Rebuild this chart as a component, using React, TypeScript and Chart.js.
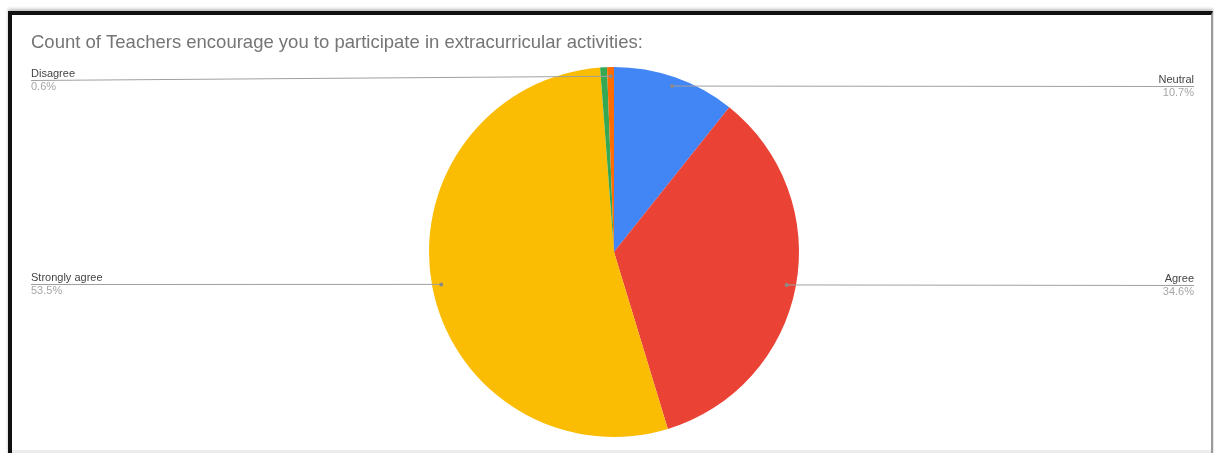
import React, { useEffect, useRef } from 'react';
import { Chart, registerables } from 'chart.js';

Chart.register(...registerables);

const titleText = 'Count of Teachers encourage you to participate in extracurricular activities:';
const categories = ['Neutral', 'Agree', 'Strongly agree', 'Strongly disagree', 'Disagree'];
const values = [10.7, 34.6, 53.5, 0.6, 0.6];
const colors = ['#4285F4', '#EA4335', '#FBBC04', '#34A853', '#FF6D01'];
const labeledCategories = ['Neutral', 'Agree', 'Strongly agree', 'Disagree'];

const FONT = '"Liberation Sans", Arial, sans-serif';

const leaderLabels = {
  id: 'leaderLabels',
  afterDatasetsDraw(chart: any) {
    const ctx = chart.ctx;
    const meta = chart.getDatasetMeta(0);
    const total = values.reduce((a, b) => a + b, 0);
    const leftX = 31;
    const rightX = 1194;
    ctx.save();
    meta.data.forEach((arc: any, i: number) => {
      if (!labeledCategories.includes(categories[i])) return;
      const { x, y, startAngle, endAngle, outerRadius } = arc.getProps(
        ['x', 'y', 'startAngle', 'endAngle', 'outerRadius'],
        true
      );
      const mid = (startAngle + endAngle) / 2;
      const r = outerRadius * 0.95;
      const ax = x + Math.cos(mid) * r;
      const ay = y + Math.sin(mid) * r;
      const right = Math.cos(mid) >= 0;
      const lineY = Math.round(Math.max(ay, chart.chartArea.top + 13)) + 0.5;
      const endX = right ? rightX : leftX;

      ctx.strokeStyle = '#a0a0a0';
      ctx.lineWidth = 1;
      ctx.beginPath();
      ctx.moveTo(endX, lineY);
      ctx.lineTo(ax, ay);
      ctx.stroke();

      ctx.fillStyle = '#8a8a8a';
      ctx.beginPath();
      ctx.arc(ax, ay, 2, 0, Math.PI * 2);
      ctx.fill();

      ctx.font = `11px ${FONT}`;
      ctx.textAlign = right ? 'right' : 'left';
      ctx.textBaseline = 'alphabetic';
      ctx.fillStyle = '#444444';
      ctx.fillText(categories[i], endX, lineY - 3.5);
      ctx.fillStyle = '#a6a6a6';
      const pct = ((values[i] / total) * 100).toFixed(1) + '%';
      ctx.fillText(pct, endX, lineY + 9.5);
    });
    ctx.restore();
  },
};

export default function App() {
  const ref = useRef<HTMLCanvasElement | null>(null);

  useEffect(() => {
    if (!ref.current) return;
    const chart = new Chart(ref.current, {
      type: 'pie',
      data: {
        labels: categories,
        datasets: [
          {
            data: values,
            backgroundColor: colors,
            borderWidth: 0,
          },
        ],
      },
      options: {
        responsive: false,
        animation: false,
        devicePixelRatio: 1,
        layout: { padding: { left: 31, right: 17, top: 0, bottom: 16 } },
        plugins: {
          legend: { display: false },
          tooltip: { enabled: false },
          title: {
            display: true,
            text: titleText,
            align: 'start',
            color: '#757575',
            font: { family: FONT, size: 18.5, weight: 'normal' },
            padding: { top: 32, bottom: 12.8 },
          },
        },
      },
      plugins: [leaderLabels],
    });
    return () => chart.destroy();
  }, []);

  return (
    <div style={{ position: 'fixed', left: 0, top: 0, width: 1214, height: 453, background: '#ffffff', overflow: 'hidden' }}>
      <div
        style={{
          position: 'absolute',
          left: 8,
          top: 11,
          width: 1199,
          height: 450,
          borderTop: '4px solid #111111',
          borderLeft: '4px solid #111111',
          borderRight: '2px solid #9a9a9a',
          boxShadow: '0 -2px 3px rgba(0,0,0,0.25)',
        }}
      />
      <div style={{ position: 'absolute', left: 12, top: 450, width: 1199, height: 3, background: '#ececec' }} />
      <canvas ref={ref} width={1214} height={453} style={{ position: 'absolute', left: 0, top: 0 }} />
    </div>
  );
}
